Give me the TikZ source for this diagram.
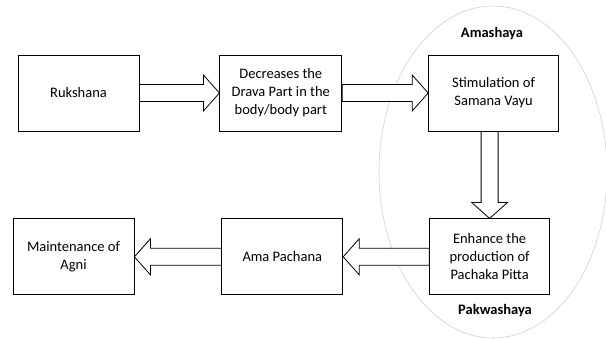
\documentclass[tikz,border=0pt]{standalone}
\usepackage{fontspec}
\setmainfont{Carlito}
\usetikzlibrary{positioning, calc}
\tikzset{
    stepbox/.style={rectangle, draw, line width=0.8pt, fill=white,
                    minimum width=121pt, minimum height=76pt, inner sep=2pt,
                    align=center, font=\fontsize{14.5}{18}\selectfont},
    region/.style={font=\fontsize{14.5}{18}\selectfont\bfseries},
    organ/.style={draw=black!18, line width=0.6pt},
    blockarrow/.style={draw, fill=white, line width=0.8pt, line join=miter,
        to path={let \p1=($(\tikztotarget)-(\tikztostart)$),
                     \n1={atan2(\y1,\x1)}, \n2={veclen(\x1,\y1)-16pt} in
            ($(\tikztostart)+(\n1+90:8.5pt)$)
            -- ($(\tikztostart)+(\n1:\n2)+(\n1+90:8.5pt)$)
            -- ($(\tikztostart)+(\n1:\n2)+(\n1+90:18pt)$)
            -- (\tikztotarget)
            -- ($(\tikztostart)+(\n1:\n2)+(\n1-90:18pt)$)
            -- ($(\tikztostart)+(\n1:\n2)+(\n1-90:8.5pt)$)
            -- ($(\tikztostart)+(\n1-90:8.5pt)$) -- cycle}},
}
\begin{document}
\begin{tikzpicture}[x=1pt, y=-1pt]
    \useasboundingbox (0,0) rectangle (606,338);
    \draw[organ] (493,172) ellipse [x radius=114pt, y radius=166pt];

    \node[stepbox] (R) at (78.5,93) {Rukshana};
    \node[stepbox, minimum width=122pt, right=80pt of R] (D) {Decreases the\\Drava Part in the\\body/body part};
    \node[stepbox, minimum width=130pt, right=86pt of D] (S) {Stimulation of\\Samana Vayu};
    \node[stepbox, minimum width=120pt, below=87pt of S, xshift=-4pt] (E) {Enhance the\\production of\\Pachaka Pitta};
    \node[stepbox, left=86pt of E] (A) {Ama Pachana};
    \node[stepbox, left=87pt of A] (M) {Maintenance of\\Agni};

    \node[region] (amashaya) at (492,34) {Amashaya};
    \node[region] (pakwashaya) at (495,311) {Pakwashaya};

    \draw[blockarrow] (R.east) to (D.west);
    \draw[blockarrow] (D.east) to (S.west);
    \draw[blockarrow] (E.north |- S.south) to (E.north);
    \draw[blockarrow] (E.west) to (A.east);
    \draw[blockarrow] (A.west) to (M.east);
\end{tikzpicture}
\end{document}
